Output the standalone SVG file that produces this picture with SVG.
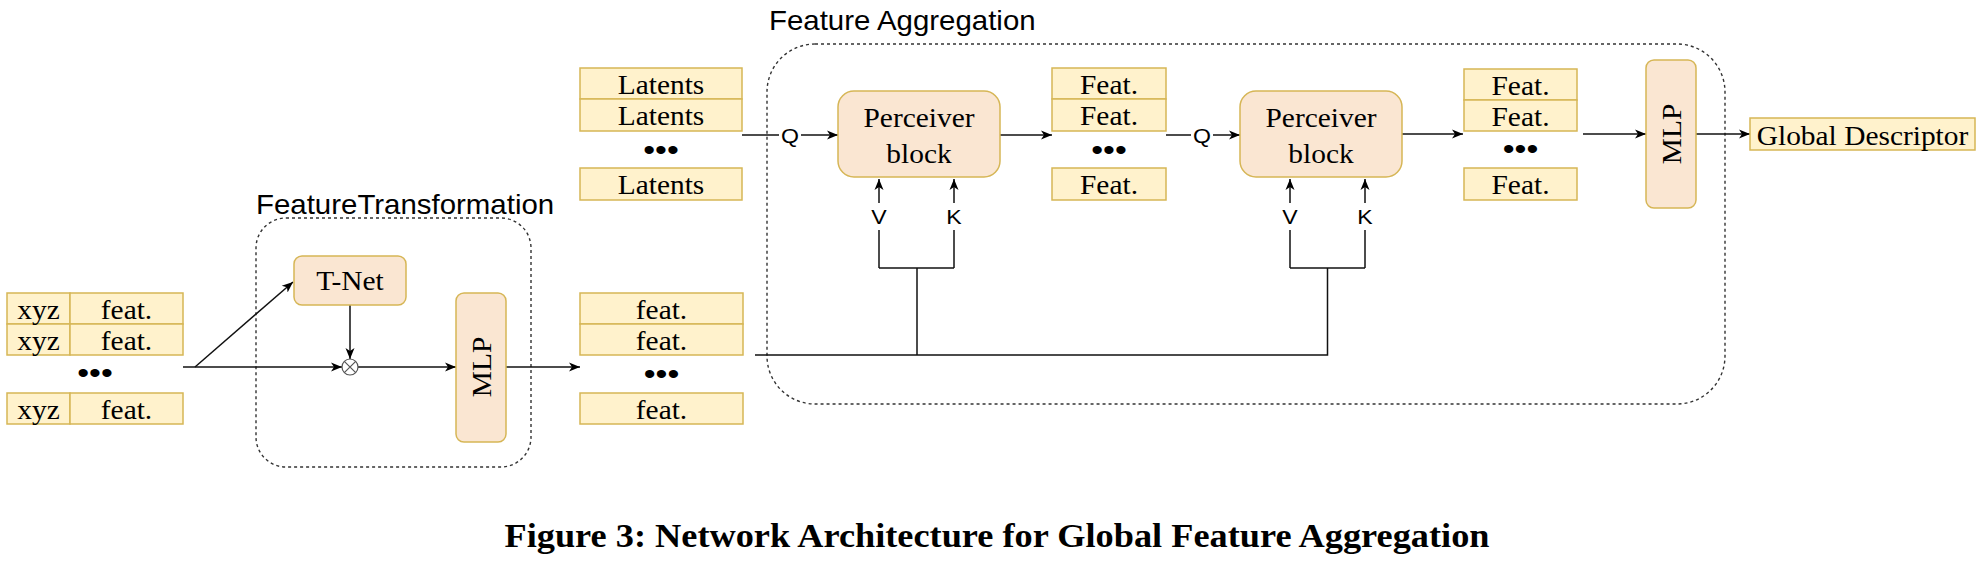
<svg xmlns="http://www.w3.org/2000/svg" width="1980" height="562" viewBox="0 0 1980 562">
<defs>
<marker id="arr" viewBox="0 0 12 10" refX="11" refY="5" markerWidth="12" markerHeight="10" orient="auto" markerUnits="userSpaceOnUse"><path d="M0,0.5 L11,5 L0,9.5 L3,5 z" fill="#000"/></marker>
<style>
.cell{fill:#fff2cc;stroke:#d6b656;stroke-width:1.5}
.blk{fill:#fae6d2;stroke:#d6b656;stroke-width:1.5}
.dash{fill:none;stroke:#333;stroke-width:1.4;stroke-dasharray:3 3}
.ln{fill:none;stroke:#111;stroke-width:1.5}
.arw{fill:none;stroke:#111;stroke-width:1.5;marker-end:url(#arr)}
.t{font-family:"Liberation Serif","Times New Roman",serif;font-size:27.5px;fill:#000;text-anchor:middle}
.sn{font-family:"Liberation Sans",Arial,sans-serif;font-size:27px;fill:#000}
.lb{font-family:"Liberation Sans",Arial,sans-serif;font-size:21px;fill:#000;text-anchor:middle}
.dots{font-family:"Liberation Sans",Arial,sans-serif;font-size:30px;fill:#000;text-anchor:middle}
.cap{font-family:"Liberation Serif","Times New Roman",serif;font-size:34px;font-weight:bold;fill:#000;text-anchor:middle}
</style>
</defs>
<rect width="1980" height="562" fill="#fff"/>

<!-- containers -->
<g id="feature-transformation">
<rect class="dash" x="256" y="218" width="275" height="249" rx="30"/>
<text class="sn" transform="translate(256,214) scale(1.09,1)">FeatureTransformation</text>
</g>
<g id="feature-aggregation">
<rect class="dash" x="767" y="44" width="958" height="360" rx="48"/>
<text class="sn" transform="translate(769,30) scale(1.09,1)">Feature Aggregation</text>
</g>

<!-- connectors -->
<g id="connectors">
<path class="arw" d="M183,367 H342"/>
<path class="arw" d="M195,367 L293,282"/>
<path class="arw" d="M350,305 V359"/>
<path class="arw" d="M358,367 H456"/>
<path class="arw" d="M506,367 H580"/>
<path class="arw" d="M742,135 H838"/>
<path class="arw" d="M1000,135 H1052"/>
<path class="arw" d="M1166,135 H1240"/>
<path class="arw" d="M1402,134 H1463"/>
<path class="arw" d="M1583,134 H1646"/>
<path class="arw" d="M1696,134 H1750"/>
<path class="ln" d="M755,355 H1327.5 V268"/>
<path class="ln" d="M917,355 V268"/>
<path class="ln" d="M879,268 H954"/>
<path class="ln" d="M1290,268 H1365"/>
<path class="arw" d="M879,268 V179"/>
<path class="arw" d="M954,268 V179"/>
<path class="arw" d="M1290,268 V179"/>
<path class="arw" d="M1365,268 V179"/>
<g fill="#fff">
<rect x="779" y="125" width="22" height="20"/>
<rect x="1191" y="125" width="22" height="20"/>
<rect x="870" y="203" width="18" height="27"/>
<rect x="945" y="203" width="18" height="27"/>
<rect x="1281" y="203" width="18" height="27"/>
<rect x="1356" y="203" width="18" height="27"/>
</g>
<text class="lb" transform="translate(790,143) scale(1.1,1)">Q</text>
<text class="lb" transform="translate(1202,143) scale(1.1,1)">Q</text>
<text class="lb" transform="translate(879,224) scale(1.1,1)">V</text>
<text class="lb" transform="translate(954,224) scale(1.1,1)">K</text>
<text class="lb" transform="translate(1290,224) scale(1.1,1)">V</text>
<text class="lb" transform="translate(1365,224) scale(1.1,1)">K</text>
</g>

<!-- input point table -->
<g id="input-points">
<rect class="cell" x="7" y="293" width="63" height="31"/>
<rect class="cell" x="70" y="293" width="113" height="31"/>
<rect class="cell" x="7" y="324" width="63" height="31"/>
<rect class="cell" x="70" y="324" width="113" height="31"/>
<rect class="cell" x="7" y="393" width="63" height="31"/>
<rect class="cell" x="70" y="393" width="113" height="31"/>
<text class="t" transform="translate(38.5,319) scale(1.07,1)">xyz</text>
<text class="t" transform="translate(126.5,319) scale(1.07,1)">feat.</text>
<text class="t" transform="translate(38.5,350) scale(1.07,1)">xyz</text>
<text class="t" transform="translate(126.5,350) scale(1.07,1)">feat.</text>
<text class="t" transform="translate(38.5,419) scale(1.07,1)">xyz</text>
<text class="t" transform="translate(126.5,419) scale(1.07,1)">feat.</text>
<text class="dots" transform="translate(95,383) scale(1.13,1)">•••</text>
</g>

<g id="t-net">
<rect class="blk" x="294" y="256" width="112" height="49" rx="8"/>
<text class="t" transform="translate(350,290) scale(1.07,1)">T-Net</text>
</g>

<g id="multiply">
<circle cx="350" cy="367" r="8" fill="#fff" stroke="#555" stroke-width="1.2"/>
<path d="M344.3,361.3 L355.7,372.7 M355.7,361.3 L344.3,372.7" stroke="#555" stroke-width="1.2"/>
</g>

<g id="mlp-1">
<rect class="blk" x="456" y="293" width="50" height="149" rx="8"/>
<text class="t" transform="translate(491,367) rotate(-90) scale(1.07,1)">MLP</text>
</g>

<g id="point-features">
<rect class="cell" x="580" y="293" width="163" height="31"/>
<rect class="cell" x="580" y="324" width="163" height="31"/>
<rect class="cell" x="580" y="393" width="163" height="31"/>
<text class="t" transform="translate(661.5,319) scale(1.07,1)">feat.</text>
<text class="t" transform="translate(661.5,350) scale(1.07,1)">feat.</text>
<text class="t" transform="translate(661.5,419) scale(1.07,1)">feat.</text>
<text class="dots" transform="translate(661.5,384) scale(1.13,1)">•••</text>
</g>

<g id="latents">
<rect class="cell" x="580" y="68" width="162" height="31"/>
<rect class="cell" x="580" y="99" width="162" height="32"/>
<rect class="cell" x="580" y="168" width="162" height="32"/>
<text class="t" transform="translate(661,94) scale(1.07,1)">Latents</text>
<text class="t" transform="translate(661,125) scale(1.07,1)">Latents</text>
<text class="t" transform="translate(661,194) scale(1.07,1)">Latents</text>
<text class="dots" transform="translate(661,160) scale(1.13,1)">•••</text>
</g>

<g id="perceiver-1">
<rect class="blk" x="838" y="91" width="162" height="86" rx="16"/>
<text class="t" transform="translate(919,127) scale(1.07,1)">Perceiver</text>
<text class="t" transform="translate(919,163) scale(1.07,1)">block</text>
</g>

<g id="feat-1">
<rect class="cell" x="1052" y="68" width="114" height="31"/>
<rect class="cell" x="1052" y="99" width="114" height="32"/>
<rect class="cell" x="1052" y="168" width="114" height="32"/>
<text class="t" transform="translate(1109,94) scale(1.07,1)">Feat.</text>
<text class="t" transform="translate(1109,125) scale(1.07,1)">Feat.</text>
<text class="t" transform="translate(1109,194) scale(1.07,1)">Feat.</text>
<text class="dots" transform="translate(1109,160) scale(1.13,1)">•••</text>
</g>

<g id="perceiver-2">
<rect class="blk" x="1240" y="91" width="162" height="86" rx="16"/>
<text class="t" transform="translate(1321,127) scale(1.07,1)">Perceiver</text>
<text class="t" transform="translate(1321,163) scale(1.07,1)">block</text>
</g>

<g id="feat-2">
<rect class="cell" x="1464" y="69" width="113" height="31"/>
<rect class="cell" x="1464" y="100" width="113" height="31"/>
<rect class="cell" x="1464" y="168" width="113" height="32"/>
<text class="t" transform="translate(1520.5,95) scale(1.07,1)">Feat.</text>
<text class="t" transform="translate(1520.5,126) scale(1.07,1)">Feat.</text>
<text class="t" transform="translate(1520.5,194) scale(1.07,1)">Feat.</text>
<text class="dots" transform="translate(1520.5,159) scale(1.13,1)">•••</text>
</g>

<g id="mlp-2">
<rect class="blk" x="1646" y="60" width="50" height="148" rx="8"/>
<text class="t" transform="translate(1681,134) rotate(-90) scale(1.07,1)">MLP</text>
</g>

<g id="global-descriptor">
<rect class="cell" x="1750" y="118" width="225" height="32"/>
<text class="t" transform="translate(1862.5,145) scale(1.07,1)">Global Descriptor</text>
</g>

<text class="cap" x="997" y="547" textLength="985" lengthAdjust="spacingAndGlyphs">Figure 3: Network Architecture for Global Feature Aggregation</text>
</svg>
